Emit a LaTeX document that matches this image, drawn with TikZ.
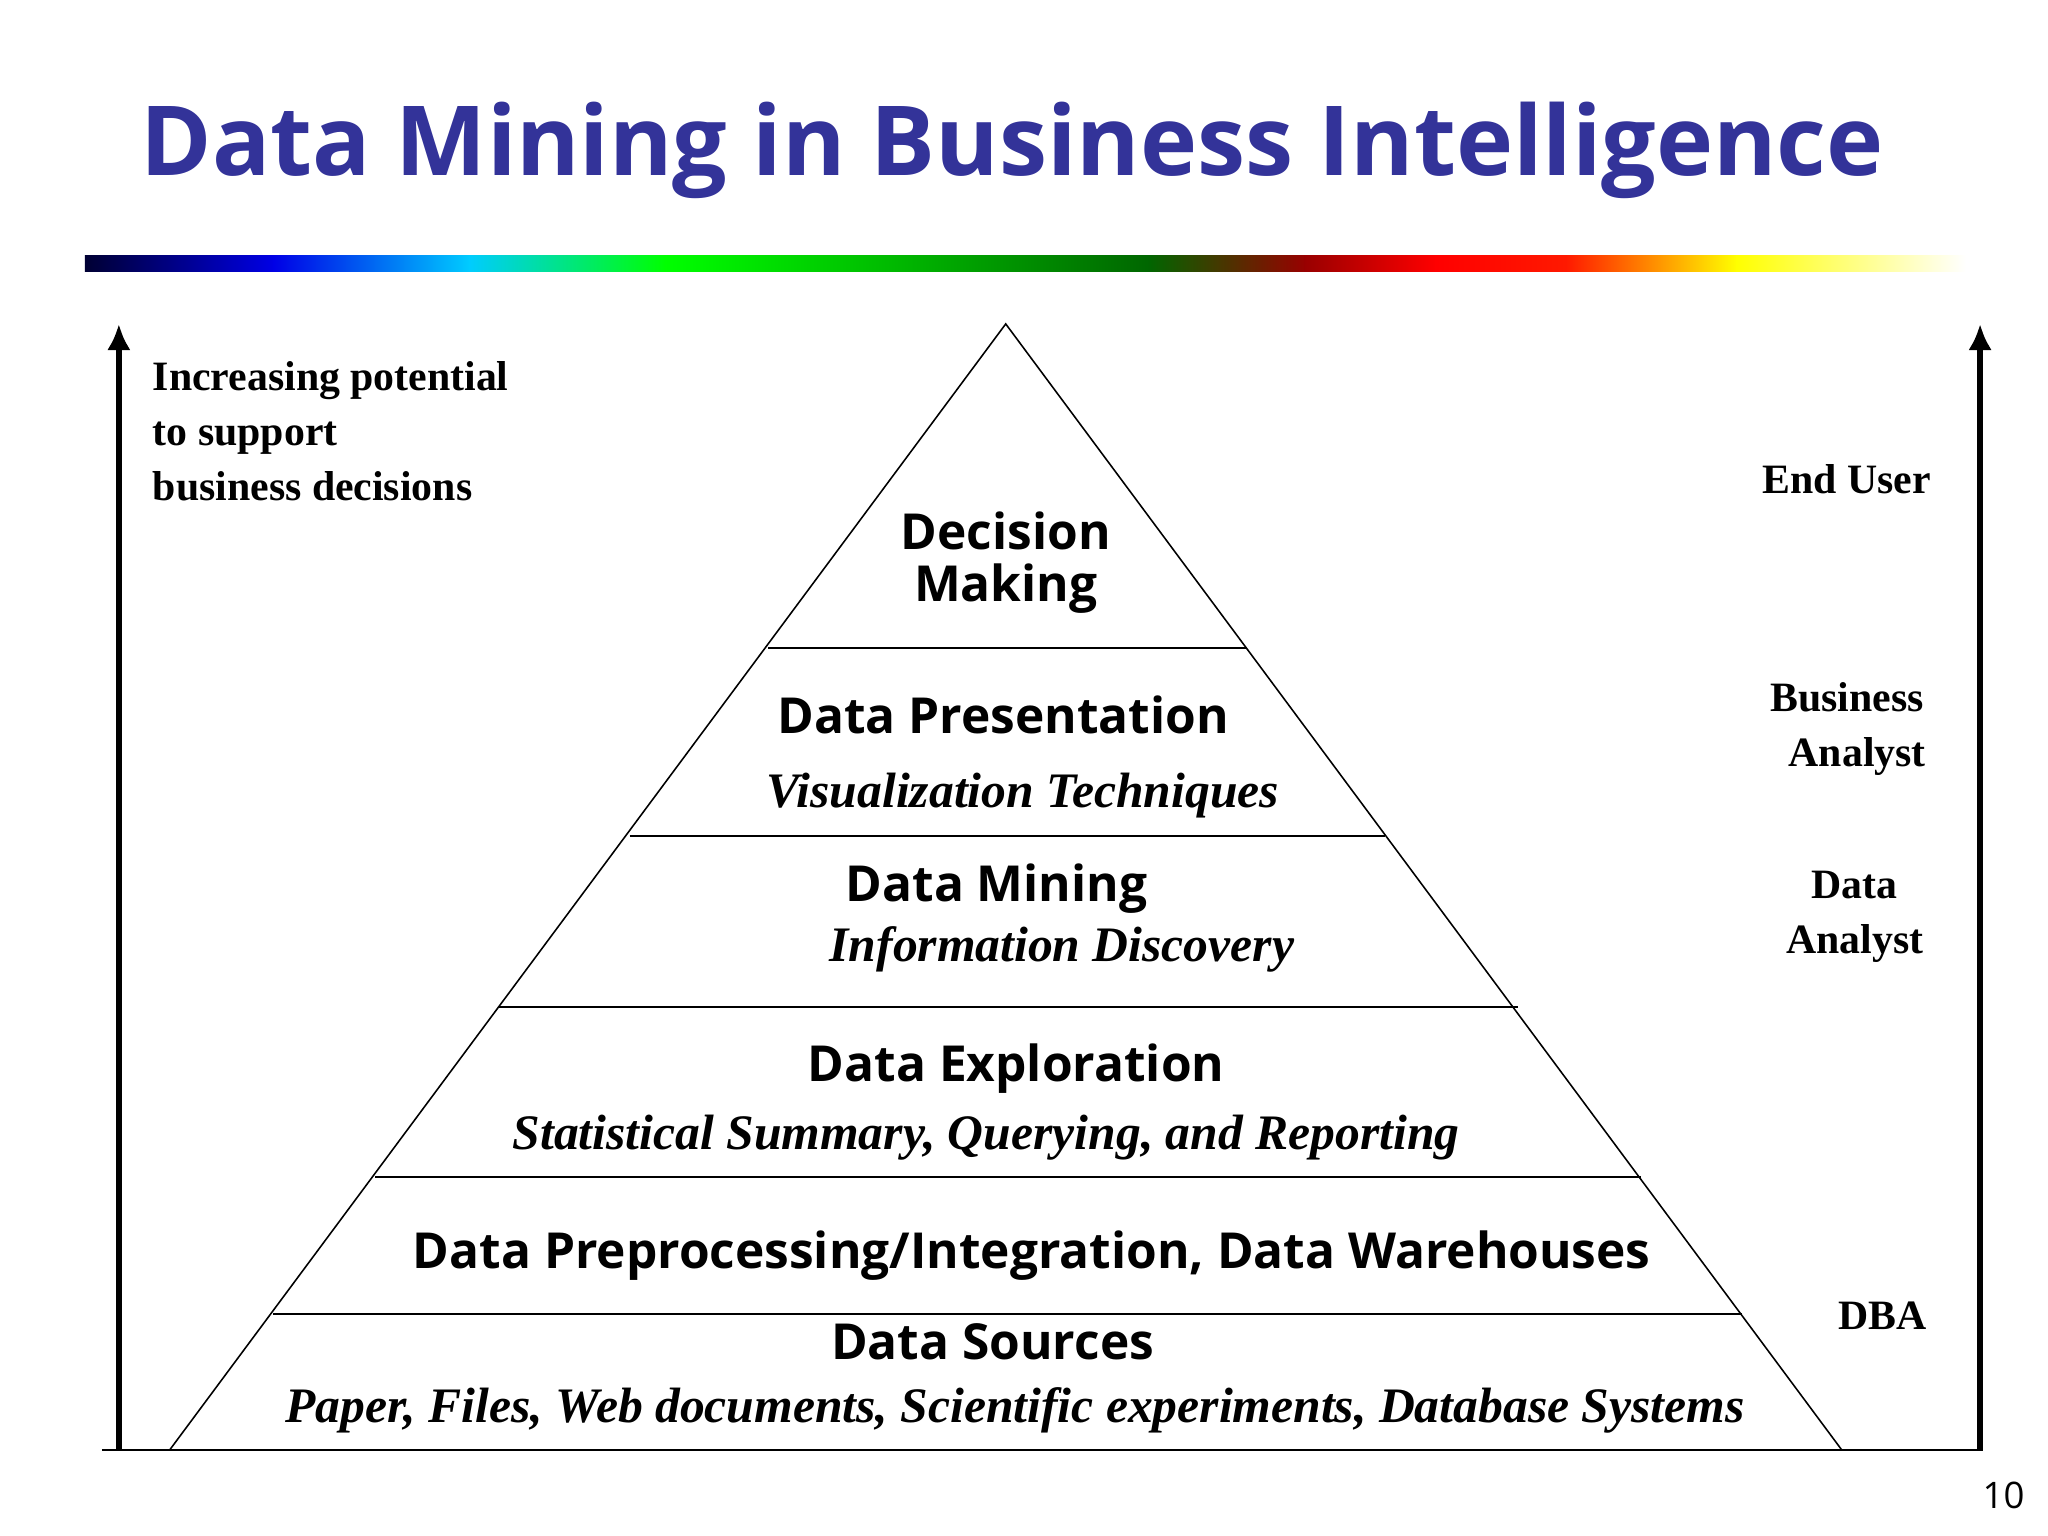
\documentclass[tikz,border=0pt]{standalone}
\usepackage{fontspec}
\usetikzlibrary{arrows.meta}
\setmainfont{Liberation Serif}
\newfontfamily\osans{Open Sans}
\begin{document}
\begin{tikzpicture}[x=0.5pt,y=-0.5pt,
  lay/.style={font=\osans\bfseries\fontsize{19}{22}\selectfont,anchor=center},
  sub/.style={font=\bfseries\itshape\fontsize{19}{22}\selectfont,anchor=center},
  role/.style={font=\bfseries\fontsize{16}{21}\selectfont,align=center},
  lvl/.style={draw=black,line width=0.6pt}]
\useasboundingbox (0,0) rectangle (1568,1176);
\definecolor{tblue}{RGB}{51,51,153}
\node[font=\osans\bfseries\fontsize{37}{44}\selectfont,text=tblue] (title) at (775,115) {Data Mining in Business Intelligence};
% gradient bar
\def\seg#1#2#3#4{\shade[left color=#3,right color=#4] (#1,196) rectangle (#2,208);}
\seg{65}{210}{black!80!blue}{blue!90!black}
\seg{209}{360}{blue!90!black}{cyan!80!blue}
\seg{359}{510}{cyan!80!blue}{green}
\seg{509}{700}{green}{green!70!black}
\seg{699}{880}{green!70!black}{green!40!black}
\seg{879}{1000}{green!40!black}{red!60!black}
\seg{999}{1100}{red!60!black}{red}
\seg{1099}{1200}{red}{red!80!orange}
\seg{1199}{1330}{red!80!orange}{yellow}
\seg{1329}{1505}{yellow}{white}
% pyramid
\coordinate (apex) at (770,248);
\coordinate (bl) at (130,1110);
\coordinate (br) at (1410,1110);
\draw[lvl] (bl) -- (apex) -- (br);
\draw[lvl] (78,1110) -- (1518,1110);
\draw[lvl] (588,496) -- (955,496);
\draw[lvl] (482,640) -- (1060,640);
\draw[lvl] (381,771) -- (1162,771);
\draw[lvl] (287,901) -- (1256,901);
\draw[lvl] (209,1006) -- (1334,1006);
% arrows
\coordinate (la0) at (91,1110); \coordinate (la1) at (91,248);
\coordinate (ra0) at (1516,1110); \coordinate (ra1) at (1516,248);
\draw[line width=2.5pt,-{Latex[length=10pt,width=9pt]}] (la0) -- (la1);
\draw[line width=2.5pt,-{Latex[length=10pt,width=9pt]}] (ra0) -- (ra1);
% layer texts
\node[lay,align=center] (dm) at (770,431) {Decision\\[-2pt]Making};
\node[lay] (dp) at (768,547) {Data Presentation};
\node[sub] (vt) at (783,609) {Visualization Techniques};
\node[lay] (dmi) at (763,680) {Data Mining};
\node[sub] (id) at (813,727) {Information Discovery};
\node[lay] (de) at (778,818) {Data Exploration};
\node[sub] (ss) at (755,871) {Statistical Summary, Querying, and Reporting};
\node[lay] (pp) at (790,961) {Data Preprocessing/Integration, Data Warehouses};
\node[lay] (ds) at (760,1027) {Data Sources};
\node[sub] (pf) at (777,1080) {Paper, Files, Web documents, Scientific experiments, Database Systems};
% side texts
\node[role,align=left,anchor=north west] (inc) at (110,270) {Increasing potential\\to support\\business decisions};
\node[role] (eu) at (1414,367) {End User};
\node[role] (ba) at (1414,558) {Business\\ \ \ Analyst};
\node[role] (da) at (1420,702) {\hfill Data\\Analyst};
\node[role] (dba) at (1441,1007) {DBA};
\node[font=\osans\fontsize{14}{16}\selectfont] (pg) at (1534,1145) {10};
\end{tikzpicture}
\end{document}
